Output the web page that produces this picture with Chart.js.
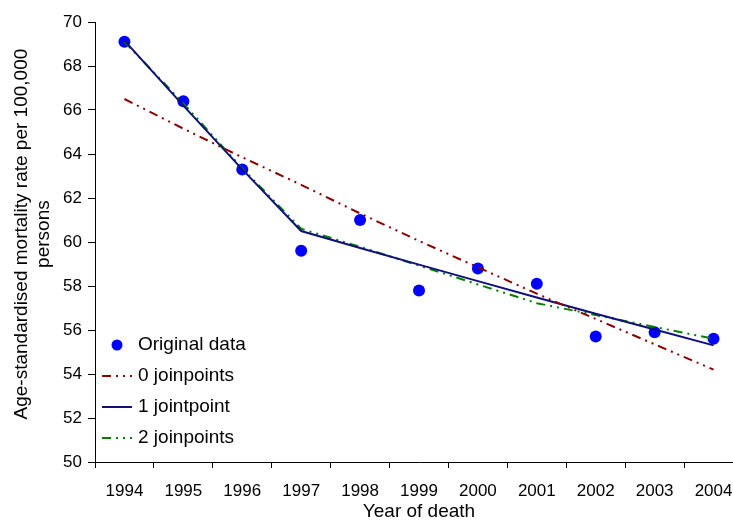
<!DOCTYPE html>
<html>
<head>
<meta charset="utf-8">
<script src="https://cdn.jsdelivr.net/npm/chart.js@4/dist/chart.umd.min.js"></script>
<style>
  html, body { margin: 0; padding: 0; background: #fff; overflow: hidden; }
  #wrap { width: 760px; height: 521px; position: relative; }
</style>
</head>
<body>
<div id="wrap"><canvas id="c" width="760" height="521"></canvas></div>
<script>
const years = ['1994','1995','1996','1997','1998','1999','2000','2001','2002','2003','2004'];
const originalData = [69.1, 66.4, 63.3, 59.6, 61.0, 57.8, 58.8, 58.1, 55.7, 55.9, 55.6];
const joinpoints0 = [66.5, 65.15, 63.85, 62.6, 61.3, 60.05, 58.85, 57.65, 56.5, 55.35, 54.2];
const joinpoints1 = [69.15, 66.2, 63.3, 60.5, 59.73, 58.97, 58.22, 57.48, 56.74, 56.02, 55.3];
const joinpoints2 = [69.1, 66.3, 63.35, 60.6, 59.78, 58.93, 58.07, 57.22, 56.68, 56.14, 55.6];
const yTicks = [50, 52, 54, 56, 58, 60, 62, 64, 66, 68, 70];
const labels = ['Original data', '0 joinpoints', '1 jointpoint', '2 joinpoints'];

const FONT = "'Liberation Sans', Arial, sans-serif";
const NB = '\u00a0\u00a0\u00a0';

const legendPlugin = {
  id: 'innerLegend',
  afterDatasetsDraw(chart) {
    const ctx = chart.ctx;
    const ca = chart.chartArea;
    const rowsFromBottom = [117, 86, 55, 24];
    const order = [3, 0, 1, 2];
    ctx.save();
    ctx.font = '19px ' + FONT;
    ctx.textBaseline = 'middle';
    ctx.fillStyle = '#000';
    order.forEach((dsIndex, i) => {
      const ds = chart.data.datasets[dsIndex];
      const y = ca.bottom - rowsFromBottom[i];
      const x0 = ca.left + 7, x1 = ca.left + 37;
      if (ds.showLine === false) {
        ctx.beginPath();
        ctx.fillStyle = ds.pointBackgroundColor;
        ctx.arc((x0 + x1) / 2, y, 5.5, 0, Math.PI * 2);
        ctx.fill();
      } else {
        ctx.beginPath();
        ctx.strokeStyle = ds.borderColor;
        ctx.lineWidth = ds.borderWidth;
        ctx.setLineDash(ds.borderDash || []);
        ctx.moveTo(x0, y);
        ctx.lineTo(x1, y);
        ctx.stroke();
        ctx.setLineDash([]);
      }
      ctx.fillStyle = '#000';
      ctx.fillText(ds.label, ca.left + 43, y);
    });
    ctx.restore();
  }
};

new Chart(document.getElementById('c'), {
  type: 'line',
  data: {
    labels: years,
    datasets: [
      { label: labels[1], data: joinpoints0, borderColor: '#8b0000', borderWidth: 2,
        borderDash: [9, 5, 2, 5, 2, 5], pointRadius: 0, fill: false, tension: 0 },
      { label: labels[2], data: joinpoints1, borderColor: '#10107a', borderWidth: 2,
        pointRadius: 0, fill: false, tension: 0 },
      { label: labels[3], data: joinpoints2, borderColor: '#008000', borderWidth: 2,
        borderDash: [9, 5, 2, 5, 2, 5], pointRadius: 0, fill: false, tension: 0 },
      { label: labels[0], data: originalData, showLine: false, pointRadius: 6,
        pointBackgroundColor: '#0000ff', pointBorderColor: '#0000ff', pointBorderWidth: 0,
        borderColor: '#0000ff', pointStyle: 'circle' }
    ]
  },
  options: {
    responsive: false,
    animation: false,
    layout: { padding: { top: 22, right: 17, left: 0, bottom: 0 } },
    plugins: { legend: { display: false }, tooltip: { enabled: false } },
    scales: {
      x: {
        type: 'category',
        offset: true,
        grid: { offset: true, drawOnChartArea: false, drawTicks: true, tickLength: 6, color: '#000', lineWidth: 1 },
        border: { color: '#000', width: 1 },
        ticks: { color: '#000', font: { family: FONT, size: 17 }, padding: 13, maxRotation: 0, autoSkip: false },
        title: { display: true, text: 'Year of death', color: '#000', font: { family: FONT, size: 19, lineHeight: 1.2 }, padding: { top: 0, bottom: -2 } },
        afterFit(s) { s.height = 59; }
      },
      y: {
        min: 50, max: 70,
        afterBuildTicks(s) { s.ticks = yTicks.map(v => ({ value: v })); },
        grid: { drawOnChartArea: false, drawTicks: true, tickLength: 7, color: '#000', lineWidth: 1 },
        border: { color: '#000', width: 1 },
        ticks: { color: '#000', font: { family: FONT, size: 17 }, padding: 6 },
        title: { display: true, text: [NB + 'Age-standardised mortality rate per 100,000', NB + 'persons'], color: '#000',
                 font: { family: FONT, size: 19, lineHeight: 1.2 }, padding: { top: 10, bottom: 0 } },
        afterFit(s) { s.width = 95; }
      }
    }
  },
  plugins: [legendPlugin]
});
</script>
</body>
</html>
